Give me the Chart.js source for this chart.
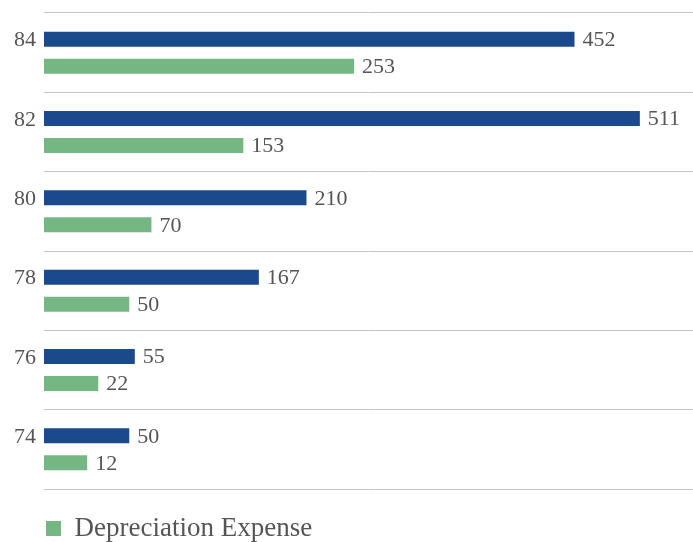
<!DOCTYPE html>
<html>
<head>
<meta charset="utf-8">
<script src="https://cdn.jsdelivr.net/npm/chart.js@4/dist/chart.umd.min.js"></script>
<style>
  html, body { margin: 0; padding: 0; background: #fff; overflow: hidden; }
</style>
</head>
<body>
<canvas id="bar-chart" width="693" height="552"></canvas>
<script>
// years, newest on top
const years = ["84", "82", "80", "78", "76", "74"];
const capitalSpending = [452, 511, 210, 167, 55, 50];
const depreciation = [253, 153, 70, 50, 22, 12];

const textColor = "#555";
const serif = '"Liberation Serif", "Times New Roman", serif';
const barStart = -27;

// numbers printed at the end of each bar
const valueLabels = {
  id: "valueLabels",
  afterDatasetsDraw(chart) {
    const ctx = chart.ctx;
    ctx.save();
    ctx.font = "22px " + serif;
    ctx.fillStyle = textColor;
    ctx.textBaseline = "middle";
    ctx.textAlign = "left";
    chart.data.datasets.forEach(function(ds, i) {
      chart.getDatasetMeta(i).data.forEach(function(bar, j) {
        ctx.fillText(ds.data[j], bar.x + 8, bar.y + 1);
      });
    });
    ctx.restore();
  }
};

new Chart(document.getElementById("bar-chart"), {
  type: "bar",
  data: {
    labels: years,
    datasets: [
      {
        label: "Capital Expenditures",
        data: capitalSpending,
        backgroundColor: "#1b4a8c",
        base: barStart
      },
      {
        label: "Depreciation Expense",
        data: depreciation,
        backgroundColor: "#74b783",
        base: barStart
      }
    ]
  },
  plugins: [valueLabels],
  options: {
    indexAxis: "y",
    responsive: false,
    animation: false,
    categoryPercentage: 0.68,
    barPercentage: 0.556,
    layout: {
      padding: { top: 13, left: 0, right: 0, bottom: 0 }
    },
    scales: {
      x: {
        display: false,
        min: barStart,
        max: 559
      },
      y: {
        afterFit: function(scale) {
          scale.width = 44;
          scale.paddingTop = 0;
          scale.paddingBottom = 0;
        },
        border: { display: false },
        grid: {
          color: "#c4c4c4",
          lineWidth: 1,
          drawTicks: false
        },
        ticks: {
          color: textColor,
          font: { family: serif, size: 22 },
          padding: 8,
          labelOffset: -12
        }
      }
    },
    plugins: {
      tooltip: { enabled: false },
      legend: {
        position: "bottom",
        align: "start",
        fullSize: false,
        title: {
          display: true,
          text: "",
          font: { size: 10 },
          padding: { top: 0, bottom: 12 }
        },
        labels: {
          color: textColor,
          font: { family: serif, size: 27 },
          boxWidth: 15,
          boxHeight: 15,
          padding: 2,
          filter: function(item) { return item.datasetIndex === 1; }
        }
      }
    }
  }
});
</script>
</body>
</html>
